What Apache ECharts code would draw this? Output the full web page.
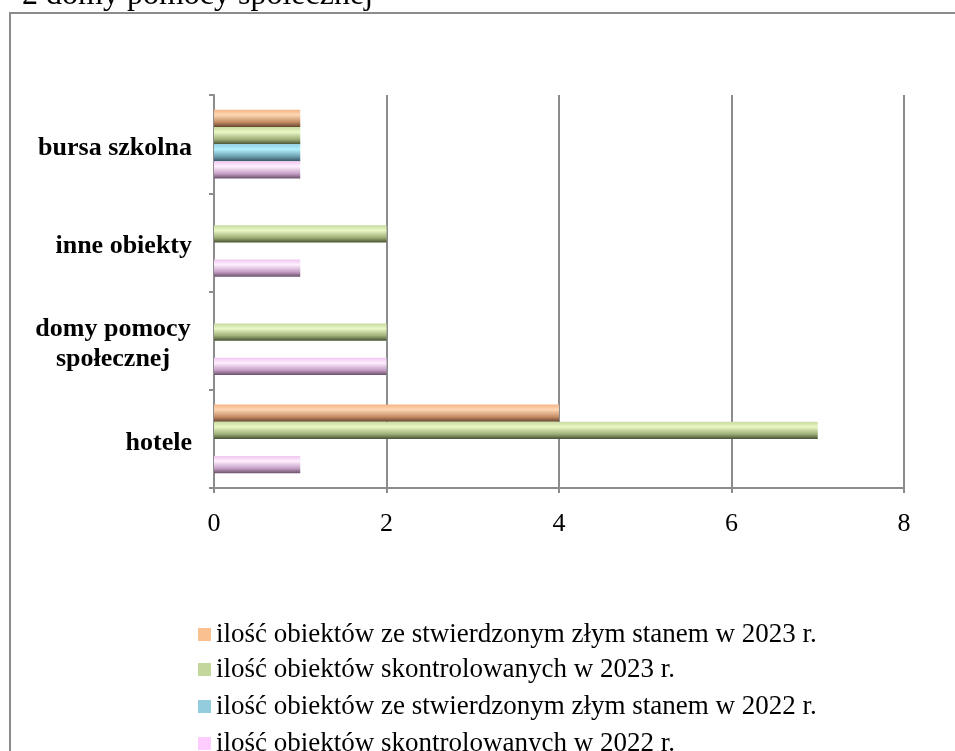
<!DOCTYPE html>
<html>
<head>
<meta charset="utf-8">
<script src="https://cdn.jsdelivr.net/npm/echarts@6/dist/echarts.min.js"></script>
<style>
html,body{margin:0;padding:0;background:#fff;}
#c{width:955px;height:751px;}
</style>
</head>
<body>
<div id="c"></div>
<script>
const categories = ['hotele', 'domy pomocy społecznej', 'inne obiekty', 'bursa szkolna'];
const seriesNames = [
  'ilość obiektów ze stwierdzonym złym stanem w 2023 r.',
  'ilość obiektów skontrolowanych w 2023 r.',
  'ilość obiektów ze stwierdzonym złym stanem w 2022 r.',
  'ilość obiektów skontrolowanych w 2022 r.'
];
const zly2023 = [4, 0, 0, 1];
const kontrol2023 = [7, 2, 2, 1];
const zly2022 = [0, 0, 0, 1];
const kontrol2022 = [1, 2, 1, 1];
const xTicks = [0, 2, 4, 6, 8];

const FONT = '"Liberation Serif", "Times New Roman", serif';
const flat = ['#fac090', '#c3d69b', '#93cddd', '#ffccff'];
const grads = [
  ['#f4b486', '#fdd8b4', '#c48c64', '#654530'],
  ['#c6da9e', '#eaf8c6', '#9fb078', '#4a5434'],
  ['#8ad0e8', '#b4f0fc', '#6b9fb0', '#365462'],
  ['#f0c6f0', '#fff0ff', '#c59ec5', '#6a506a']
];
function grad(g){
  return new echarts.graphic.LinearGradient(0,0,0,1,[
    {offset:0,color:g[0]},{offset:0.3,color:g[1]},{offset:0.72,color:g[2]},{offset:1,color:g[3]}
  ]);
}
const values = [zly2023, kontrol2023, zly2022, kontrol2022];
const legendTops = [616, 651, 688, 725];

const chart = echarts.init(document.getElementById('c'), null, {renderer:'canvas'});
const gray = '#8c8c8c';
chart.setOption({
  animation:false,
  backgroundColor:'#fff',
  graphic:[
    {type:'rect', z:-10, shape:{x:10,y:13,width:1000,height:1000}, style:{fill:'#fff', stroke:gray, lineWidth:2}},
    {type:'text', z:10, x:22, y:12, style:{text:'2 domy pomocy społecznej', font:'32px "Liberation Serif", serif', fill:'#000', verticalAlign:'bottom'}}
  ],
  grid:{left:214, right:51, top:95, bottom:263, containLabel:false},
  legend: seriesNames.map((n,i)=>({
    left:193, top:legendTops[i], itemWidth:13, itemHeight:13, icon:'rect',
    textStyle:{fontFamily:FONT, fontSize:27, color:'#000'},
    data:[{name:n, itemStyle:{color:flat[i]}}]
  })),
  xAxis:{
    type:'value', min:xTicks[0], max:xTicks[xTicks.length-1], interval:2,
    axisLine:{show:true, lineStyle:{color:gray, width:2}},
    axisTick:{show:true, length:5, lineStyle:{color:gray, width:2}},
    splitLine:{show:true, lineStyle:{color:gray, width:2}},
    axisLabel:{fontFamily:FONT, fontSize:26, color:'#000', margin:23}
  },
  yAxis:{
    type:'category', data:categories,
    axisLine:{show:true, lineStyle:{color:gray, width:2}},
    axisTick:{show:true, length:5, lineStyle:{color:gray, width:2}},
    axisLabel:{
      margin:22, fontFamily:FONT, fontSize:26, fontWeight:'bold', color:'#000',
      padding:[8,0,0,0],
      formatter:function(v){
        if(v==='domy pomocy społecznej') return '{c|domy pomocy}\n{c|społecznej}';
        return v;
      },
      rich:{c:{width:158, align:'center', fontFamily:FONT, fontSize:26, fontWeight:'bold', color:'#000', lineHeight:30}}
    }
  },
  series: values.map((d,i)=>({
    name:seriesNames[i], type:'bar', data:d,
    barGap:'0%', barCategoryGap:'30%',
    itemStyle:{color:grad(grads[i])}
  }))
});
</script>
</body>
</html>
